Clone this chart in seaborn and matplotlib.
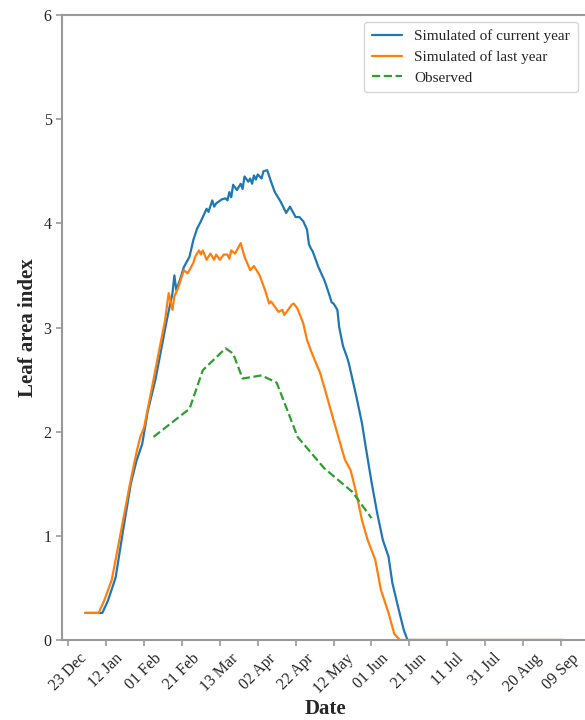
import pandas as pd
import matplotlib.pyplot as plt
import matplotlib.dates as mdates
import seaborn as sns

# Season starts on 23 Dec; all series are given as day offsets from that date
season_start = pd.Timestamp('2020-12-23')

# Simulated LAI, current year
cur_day = [9, 18, 21, 25, 29, 33, 36, 39, 42, 46, 48, 52, 55, 56, 57, 59, 61, 64, 66, 68,
           70, 71, 73, 74, 76, 77, 78, 81, 83, 84, 85, 86, 87, 89, 91, 92, 93, 95, 96, 97,
           98, 99, 100, 101, 102, 103, 105, 107, 109, 112, 115, 117, 120, 122, 124, 126, 127,
           128, 129, 132, 135, 136, 138, 139, 140, 142, 143, 145, 147, 148, 150, 152, 155,
           157, 160, 163, 166, 169, 171, 174, 177, 179, 261]
cur_lai = [0.26, 0.26, 0.38, 0.60, 1.06, 1.50, 1.72, 1.88, 2.20, 2.50, 2.69, 3.07, 3.33, 3.50,
           3.36, 3.46, 3.58, 3.68, 3.84, 3.95, 4.02, 4.06, 4.14, 4.11, 4.22, 4.16, 4.19, 4.23,
           4.24, 4.22, 4.30, 4.25, 4.37, 4.32, 4.38, 4.33, 4.45, 4.40, 4.43, 4.38, 4.46, 4.42,
           4.47, 4.45, 4.43, 4.50, 4.51, 4.40, 4.30, 4.21, 4.10, 4.16, 4.06, 4.06, 4.02, 3.94,
           3.80, 3.76, 3.73, 3.58, 3.46, 3.41, 3.30, 3.24, 3.23, 3.17, 3.00, 2.82, 2.72, 2.66,
           2.50, 2.34, 2.08, 1.85, 1.52, 1.22, 0.96, 0.80, 0.55, 0.32, 0.10, 0.0, 0.0]

# Simulated LAI, last year
last_day = [9, 16, 19, 23, 28, 33, 36, 38, 40, 45, 47, 51, 53, 55, 56, 58, 61, 63, 66, 67,
            69, 70, 71, 73, 75, 77, 78, 80, 82, 84, 85, 86, 88, 91, 93, 96, 98, 101, 104, 106,
            107, 109, 111, 113, 114, 116, 118, 119, 121, 124, 126, 128, 130, 133, 136, 140,
            143, 146, 149, 152, 155, 158, 162, 165, 169, 172, 175, 261]
last_lai = [0.26, 0.26, 0.38, 0.58, 1.06, 1.54, 1.80, 1.95, 2.04, 2.50, 2.69, 3.06, 3.33, 3.17,
            3.30, 3.38, 3.55, 3.52, 3.62, 3.68, 3.74, 3.70, 3.74, 3.65, 3.71, 3.65, 3.70, 3.65,
            3.70, 3.70, 3.66, 3.74, 3.71, 3.81, 3.68, 3.55, 3.59, 3.50, 3.35, 3.23, 3.25, 3.20,
            3.15, 3.17, 3.12, 3.17, 3.22, 3.23, 3.18, 3.04, 2.88, 2.78, 2.69, 2.56, 2.37, 2.11,
            1.92, 1.73, 1.63, 1.41, 1.15, 0.96, 0.77, 0.48, 0.26, 0.06, 0.0, 0.0]

# Observed LAI
obs_day = [45, 64, 71, 83, 87, 92, 102, 110, 121, 135, 150, 160]
obs_lai = [1.95, 2.22, 2.59, 2.80, 2.75, 2.51, 2.54, 2.47, 1.95, 1.65, 1.42, 1.17]


def to_frame(days, lai):
    return pd.DataFrame({'Date': season_start + pd.to_timedelta(days, unit='D'), 'LAI': lai})


cur = to_frame(cur_day, cur_lai)
last = to_frame(last_day, last_lai)
obs = to_frame(obs_day, obs_lai)

sns.set_style('ticks')
plt.rcParams['font.family'] = ['Liberation Serif', 'DejaVu Serif']

fig = plt.figure(figsize=(5.85, 7.2), dpi=100)
ax = fig.add_axes([62 / 585, 80 / 720, 527.4 / 585, 625 / 720])

sns.lineplot(data=cur, x='Date', y='LAI', ax=ax, color='#1f77b4', lw=1.6,
             label='Simulated of current year')
sns.lineplot(data=last, x='Date', y='LAI', ax=ax, color='#ff7f0e', lw=1.6,
             label='Simulated of last year')
sns.lineplot(data=obs, x='Date', y='LAI', ax=ax, color='#2ca02c', lw=1.6,
             linestyle='--', label='Observed')

# x axis: ticks every 20 days from 23 Dec
ticks = pd.date_range(season_start, periods=14, freq='20D')
ax.set_xticks(ticks)
ax.xaxis.set_major_formatter(mdates.DateFormatter('%d %b'))
ax.set_xlim(season_start - pd.Timedelta(days=3.3), season_start + pd.Timedelta(days=275))
ax.set_ylim(0, 6)
ax.set_yticks(range(0, 7))

ax.tick_params(axis='x', labelsize=11.5, rotation=45, length=4, width=1.2, color='#999999')
ax.tick_params(axis='y', labelsize=11.5, length=4, width=1.2, color='#999999')
for side in ['left', 'bottom', 'top']:
    ax.spines[side].set_color('#999999')
    ax.spines[side].set_linewidth(1.5)
ax.spines['right'].set_visible(False)

ax.set_xlabel('Date', fontsize=15, fontweight='bold', labelpad=2)
ax.set_ylabel('Leaf area index', fontsize=15, fontweight='bold')

ax.legend(loc='upper right', bbox_to_anchor=(0.978, 0.989), borderaxespad=0,
          fontsize=11, frameon=True, borderpad=0.5, labelspacing=0.45)

fig.savefig('out.png', dpi=100)
